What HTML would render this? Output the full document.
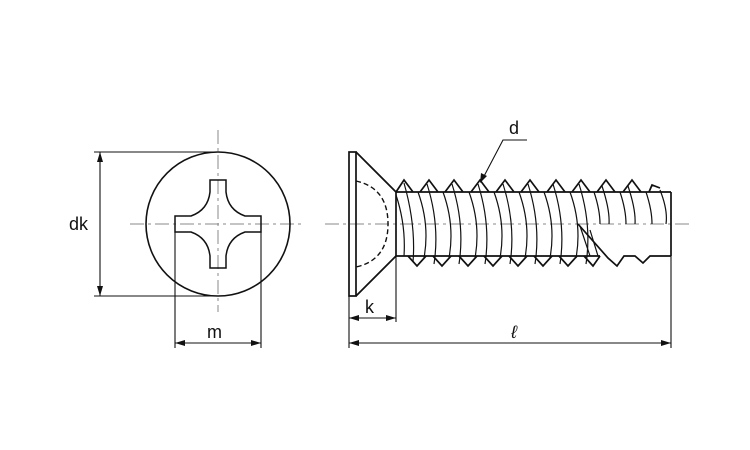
<!DOCTYPE html>
<html><head><style>html,body{margin:0;padding:0;background:#fff}svg{display:block}</style></head><body>
<svg width="750" height="450" viewBox="0 0 750 450" xmlns="http://www.w3.org/2000/svg" font-family="Liberation Sans, sans-serif">
<defs>
<marker id="a" markerWidth="10" markerHeight="6" refX="10" refY="3" orient="auto-start-reverse" markerUnits="userSpaceOnUse"><path d="M0,0 L10,3 L0,6 Z" fill="#111"/></marker>
</defs>
<g stroke="#111" fill="none">
<g stroke="#888" stroke-width="1" stroke-dasharray="14,4,3,4">
<line x1="130" y1="224" x2="305" y2="224"/>
<line x1="218" y1="130" x2="218" y2="312"/>
<line x1="325" y1="224" x2="690" y2="224"/>
</g>
<circle cx="218" cy="224" r="72" stroke-width="1.6"/>
<path d="M210,180 H226 V192 Q228,210 245,216 H261 V232 H245 Q228,238 226,256 V268 H210 V256 Q208,238 191,232 H175 V216 H191 Q208,210 210,192 Z" stroke-width="1.5"/>
<g stroke-width="1.1">
<line x1="94" y1="152" x2="218" y2="152"/>
<line x1="94" y1="296" x2="218" y2="296"/>
<line x1="100" y1="152" x2="100" y2="296" marker-start="url(#a)" marker-end="url(#a)"/>
<line x1="175" y1="232" x2="175" y2="348"/>
<line x1="261" y1="232" x2="261" y2="348"/>
<line x1="175" y1="343" x2="261" y2="343" marker-start="url(#a)" marker-end="url(#a)"/>
</g>
<g stroke-width="1.7">
<rect x="349" y="152" width="7" height="144"/>
<path d="M356,152 L396,192 M356,296 L396,256"/>
<line x1="396" y1="192" x2="396" y2="256"/>
<line x1="396" y1="192" x2="671" y2="192"/>
<line x1="396" y1="256" x2="600" y2="256"/>
<line x1="671" y1="192" x2="671" y2="256"/>
<path d="M396,192 L404,180 L413,192 M420,192 L429,180 L438,192 M445,192 L454,180 L463,192 M471,192 L480,180 L489,192 M496,192 L505,180 L514,192 M521,192 L530,180 L539,192 M547,192 L556,180 L565,192 M572,192 L581,180 L590,192 M597,192 L606,180 L615,192 M623,192 L632,180 L641,192 M649,192 L652,185 L660,188"/>
<path d="M408,256 L417,266 L426,256 M433,256 L442,266 L451,256 M459,256 L468,266 L477,256 M484,256 L493,266 L502,256 M509,256 L518,266 L527,256 M534,256 L543,266 L552,256 M559,256 L568,266 L577,256 M584,256 L593,266 L600,256"/>
<path d="M578,224 L608,258 L617,266 L624,256 L635,256 L643,263 L650,256 L671,256"/>
</g>
<g stroke-width="1.2">
<path d="M396,195 Q406,225 404,256 M404,183 Q416,225 413,262"/>
<path id="h" d="M418,192 Q430,225 424,258 M427,184 Q440,225 434,264"/>
<use href="#h" x="25"/><use href="#h" x="51"/><use href="#h" x="76"/><use href="#h" x="101"/><use href="#h" x="126"/><use href="#h" x="152"/>
<path d="M594,192 Q600,210 600,224 M602,186 Q610,210 609,224 M620,192 Q626,210 626,224 M628,186 Q636,210 635,224 M646,192 Q652,210 652,224 M660,190 Q668,210 666,224"/>
<path d="M580,226 L590,256 M590,230 L598,256" />
</g>
<path d="M356,181 Q388,188 388,224 Q388,260 356,267" stroke-width="1.4" stroke-dasharray="5,3"/>
<g stroke-width="1.1">
<line x1="349" y1="296" x2="349" y2="348"/>
<line x1="396" y1="256" x2="396" y2="322"/>
<line x1="671" y1="256" x2="671" y2="348"/>
<line x1="349" y1="318" x2="396" y2="318" marker-start="url(#a)" marker-end="url(#a)"/>
<line x1="349" y1="343" x2="671" y2="343" marker-start="url(#a)" marker-end="url(#a)"/>
<path d="M527,140 H503 L482,180"/>
</g>
<path d="M480,183 L481,173 L487,176 Z" fill="#111" stroke="none"/>
</g>
<g fill="#111" font-size="18">
<text x="69" y="230">dk</text>
<text x="207" y="338">m</text>
<text x="365" y="313">k</text>
<text x="509" y="134">d</text>
<text x="511" y="338" font-style="italic">ℓ</text>
</g>
</svg>
</body></html>
